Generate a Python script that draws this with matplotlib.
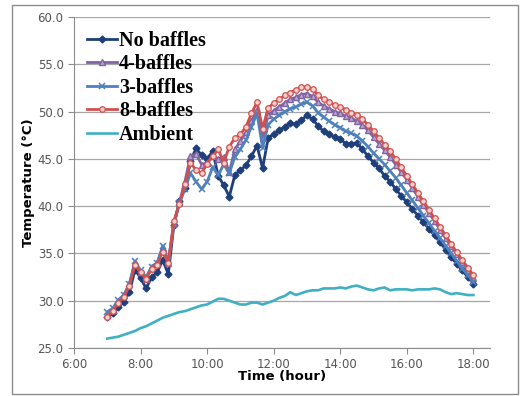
import numpy as np
import pandas as pd
import matplotlib
matplotlib.use("Agg")
import matplotlib.pyplot as plt
from matplotlib.ticker import FuncFormatter, MultipleLocator
from matplotlib.patches import Rectangle

## Data ##
# readings every 10 minutes, 7:00 to 18:00
times = pd.date_range("2000-01-01 07:00", "2000-01-01 18:00", freq="10min")
hours = times.hour + times.minute / 60.0

no_baffles = [28.3, 28.7, 29.3, 29.9, 30.9, 33.3, 32.4, 31.3, 32.5, 33.0, 34.3, 32.8,
              38.0, 40.5, 41.9, 44.8, 46.1, 45.4, 45.0, 45.8, 43.2, 42.2, 41.0, 43.3,
              43.8, 44.3, 45.3, 46.4, 44.0, 47.2, 47.6, 48.0, 48.4, 48.8, 48.7, 49.1,
              49.6, 49.2, 48.5, 47.9, 47.6, 47.3, 47.1, 46.6, 46.6, 46.7, 46.0, 45.3,
              44.6, 44.0, 43.2, 42.6, 41.8, 41.1, 40.4, 39.7, 39.0, 38.3, 37.6, 36.9,
              36.2, 35.4, 34.6, 33.9, 33.2, 32.5, 31.8]
baffles_4 = [28.5, 29.0, 29.9, 30.6, 31.8, 34.0, 33.0, 32.3, 33.6, 34.0, 35.6, 34.0,
             38.2, 40.4, 42.6, 45.3, 45.5, 44.4, 44.6, 45.3, 45.0, 45.2, 43.6, 46.0,
             46.9, 47.8, 49.0, 50.2, 47.2, 49.6, 50.1, 50.5, 50.9, 51.3, 51.5, 51.8,
             51.9, 51.6, 51.0, 50.6, 50.3, 50.0, 49.8, 49.5, 49.3, 49.0, 48.6, 48.0,
             47.3, 46.6, 45.9, 45.2, 44.4, 43.6, 42.8, 41.9, 41.0, 40.1, 39.3, 38.4,
             37.5, 36.6, 35.8, 34.9, 34.1, 33.2, 32.4]
baffles_3 = [28.8, 29.2, 30.1, 30.6, 31.8, 34.2, 33.2, 32.5, 33.6, 34.0, 35.8, 34.2,
             38.0, 40.3, 41.8, 43.5, 42.6, 41.8, 42.6, 44.1, 43.3, 44.4, 43.5, 45.2,
             46.0, 47.0, 48.4, 49.8, 46.2, 48.6, 49.2, 49.6, 50.0, 50.3, 50.5, 50.8,
             51.0, 50.6, 49.9, 49.4, 49.0, 48.6, 48.3, 47.9, 47.7, 47.4, 46.9, 46.3,
             45.6, 45.0, 44.4, 43.7, 43.0, 42.2, 41.4, 40.6, 39.8, 39.0, 38.2, 37.4,
             36.6, 35.8, 35.0, 34.2, 33.4, 32.7, 32.0]
baffles_8 = [28.3, 28.9, 29.8, 30.4, 31.6, 33.8, 33.0, 32.3, 33.4, 33.8, 35.2, 34.0,
             38.4, 40.2, 42.3, 44.6, 43.8, 43.5, 44.5, 45.3, 46.0, 44.6, 46.3, 47.2,
             47.6, 48.4, 49.8, 51.0, 48.2, 50.4, 50.9, 51.3, 51.7, 52.0, 52.3, 52.6,
             52.6, 52.4, 51.7, 51.3, 51.0, 50.7, 50.5, 50.2, 49.9, 49.6, 49.2, 48.6,
             47.9, 47.2, 46.5, 45.8, 45.0, 44.1, 43.2, 42.3, 41.4, 40.5, 39.6, 38.7,
             37.8, 36.9, 36.0, 35.1, 34.3, 33.5, 32.7]
ambient = [26.0, 26.1, 26.2, 26.4, 26.6, 26.8, 27.1, 27.3, 27.6, 27.9, 28.2, 28.4,
           28.6, 28.8, 28.9, 29.1, 29.3, 29.5, 29.6, 29.9, 30.2, 30.2, 30.0, 29.8,
           29.6, 29.6, 29.8, 29.8, 29.6, 29.8, 30.0, 30.3, 30.5, 30.9, 30.6, 30.8,
           31.0, 31.1, 31.1, 31.3, 31.3, 31.3, 31.4, 31.3, 31.5, 31.6, 31.4, 31.2,
           31.1, 31.3, 31.4, 31.1, 31.2, 31.2, 31.2, 31.1, 31.2, 31.2, 31.2, 31.3,
           31.2, 30.9, 30.7, 30.8, 30.7, 30.6, 30.6]

## Figure ##
fig = plt.figure(figsize=(5.23, 3.96), dpi=100)
fig.patches.append(Rectangle((12 / 523, 2 / 396), 506 / 523, 389 / 396,
                             transform=fig.transFigure, fill=False,
                             edgecolor="#8c8c8c", linewidth=1.0))
ax = fig.add_axes([74 / 523, 48 / 396, 416 / 523, 331 / 396])

ax.plot(hours, no_baffles, color="#1f3f7a", lw=2.0, marker="D", ms=3.5,
        label="No baffles")
ax.plot(hours, baffles_4, color="#8064a2", lw=2.0, marker="^", ms=4,
        mfc="#b9a6d2", label="4-baffles")
ax.plot(hours, baffles_3, color="#4f81bd", lw=2.0, marker="x", ms=4,
        mew=1.1, label="3-baffles")
ax.plot(hours, baffles_8, color="#d0504d", lw=2.0, marker="o", ms=4,
        mfc="#f4d0cf", mew=0.9, label="8-baffles")
ax.plot(hours, ambient, color="#3fb0c4", lw=1.9, label="Ambient")

ax.set_xlim(6, 18.5)
ax.set_ylim(25, 60)
ax.xaxis.set_major_locator(MultipleLocator(2))
ax.yaxis.set_major_locator(MultipleLocator(5))
ax.xaxis.set_major_formatter(FuncFormatter(lambda v, p: "%d:00" % v))
ax.yaxis.set_major_formatter(FuncFormatter(lambda v, p: "%.1f" % v))
ax.grid(True, axis="y", color="#a6a6a6", lw=0.9)
ax.set_axisbelow(True)
for side in ("top", "right"):
    ax.spines[side].set_visible(False)
for side in ("left", "bottom"):
    ax.spines[side].set_color("#8c8c8c")
ax.tick_params(colors="#8c8c8c", length=4, labelcolor="#555555", labelsize=8.5)

ax.set_xlabel("Time (hour)", fontsize=9.5, fontweight="bold", labelpad=-1)
ax.set_ylabel("Temperature (\u00b0C)", fontsize=9.5, fontweight="bold", labelpad=2)

ax.legend(loc="upper left", bbox_to_anchor=(0.031, 0.958), frameon=False,
          prop={"family": "Liberation Serif", "weight": "bold", "size": 14.5},
          handlelength=1.5, handletextpad=0.1, labelspacing=0.17,
          borderaxespad=0, borderpad=0)

plt.savefig("out.png", dpi=100)
